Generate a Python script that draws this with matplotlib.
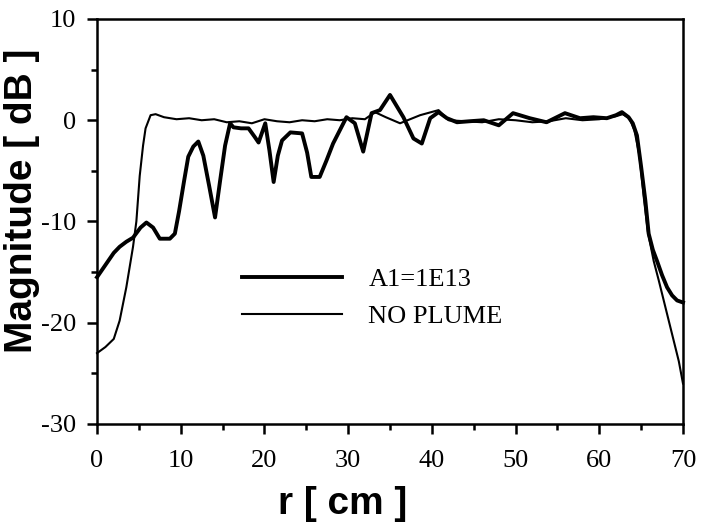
import matplotlib
matplotlib.use("Agg")
import matplotlib.pyplot as plt
from matplotlib.ticker import MultipleLocator

plt.rcParams["axes.unicode_minus"] = False

# === data ===
r_a1 = [0, 1, 2, 2.7, 3.5, 4.3, 5.2, 5.9, 6.7, 7.5, 8.7, 9.3, 9.8, 10.4, 10.9,
        11.5, 12.1, 12.7, 13.4, 14.1, 14.7, 15.3, 15.9, 16.3, 17.2, 18.1, 18.8,
        19.3, 20.1, 20.6, 21.1, 21.6, 22.1, 23.1, 24.5, 25.1, 25.6, 26.6, 27.4,
        28.2, 29.0, 29.8, 30.8, 31.8, 32.8, 33.8, 35.0, 35.8, 36.6, 37.8, 38.8,
        39.8, 40.8, 41.8, 43.0, 44.5, 46.2, 48.0, 49.7, 51.7, 53.7, 55.9, 57.7,
        59.3, 60.9, 62.0, 62.7, 63.5, 64.0, 64.5, 65.0, 65.5, 65.9, 66.4, 66.9,
        67.5, 68.1, 68.7, 69.3, 70]
mag_a1 = [-15.5, -14.3, -13.1, -12.5, -12.0, -11.6, -10.6, -10.1, -10.6, -11.7,
          -11.7, -11.2, -9.0, -6.0, -3.6, -2.6, -2.1, -3.5, -6.5, -9.6, -6.0,
          -2.5, -0.3, -0.7, -0.8, -0.8, -1.6, -2.2, -0.3, -3.0, -6.1, -3.5, -2.0,
          -1.2, -1.3, -3.2, -5.6, -5.6, -4.0, -2.3, -1.0, 0.3, -0.3, -3.1, 0.7,
          1.0, 2.5, 1.4, 0.3, -1.8, -2.3, 0.2, 0.8, 0.2, -0.2, -0.1, 0.0, -0.5,
          0.7, 0.2, -0.2, 0.7, 0.2, 0.3, 0.2, 0.5, 0.8, 0.3, -0.3, -1.5, -4.6,
          -7.9, -11.2, -12.8, -13.9, -15.3, -16.5, -17.3, -17.8, -18.0]

r_np = [0, 1, 2, 2.7, 3.5, 4.3, 4.7, 5.1, 5.5, 5.8, 6.4, 7.0, 8.0, 9.5, 11.0,
        12.5, 14.0, 15.5, 17.0, 18.5, 20.0, 21.5, 23.0, 24.5, 26.0, 27.5, 29.0,
        30.5, 32.0, 33.2, 34.5, 36.2, 38.6, 40.8, 42.0, 44.0, 46.0, 48.0, 50.0,
        52.0, 54.0, 56.0, 58.0, 60.0, 62.0, 62.8, 63.6, 64.2, 64.8, 65.3, 65.8,
        66.5, 67.1, 67.7, 68.3, 68.9, 69.5, 70]
mag_np = [-23.0, -22.4, -21.6, -19.8, -16.5, -12.5, -10.0, -5.5, -2.5, -0.8, 0.5,
          0.6, 0.3, 0.1, 0.2, 0.0, 0.1, -0.2, -0.1, -0.3, 0.1, -0.1, -0.2, 0.0,
          -0.1, 0.1, 0.0, 0.2, 0.1, 0.8, 0.3, -0.3, 0.5, 1.0, 0.0, -0.1, -0.2,
          0.1, 0.0, -0.2, -0.1, 0.2, 0.0, 0.1, 0.4, 0.6, 0.2, -1.0, -3.5, -7.5,
          -11.0, -13.9, -15.8, -17.8, -19.8, -21.8, -23.8, -26.0]

labels = ["A1=1E13", "NO PLUME"]

serif = ["Liberation Serif", "DejaVu Serif"]
sans = ["Liberation Sans", "DejaVu Sans"]

fig = plt.figure(figsize=(7.01, 5.29), dpi=100)
ax = fig.add_axes([0.1384, 0.1985, 0.8359, 0.7656])

ax.plot(r_a1, mag_a1, color="black", lw=2.8, label=labels[0],
        solid_joinstyle="round", clip_on=False)
ax.plot(r_np, mag_np, color="black", lw=1.5, label=labels[1],
        solid_joinstyle="round", clip_on=False)

ax.set_xlim(0, 70)
ax.set_ylim(-30, 10)
ax.xaxis.set_major_locator(MultipleLocator(10))
ax.xaxis.set_minor_locator(MultipleLocator(5))
ax.yaxis.set_major_locator(MultipleLocator(10))
ax.yaxis.set_minor_locator(MultipleLocator(5))
ax.tick_params(which="major", direction="out", length=7, width=1.8, pad=8)
ax.tick_params(which="minor", direction="out", length=4, width=1.8)
ax.tick_params(axis="x", which="major", pad=12)

for s in ax.spines.values():
    s.set_linewidth(1.8)

for lab in ax.get_xticklabels() + ax.get_yticklabels():
    lab.set_family(serif)
    lab.set_fontsize(19)

ax.set_xlabel("r [ cm ]", family=sans, fontweight="bold", fontsize=28, va="center")
ax.xaxis.set_label_coords(0.42, -0.198)
ax.set_ylabel("Magnitude [ dB ]", family=sans, fontweight="bold", fontsize=28,
              va="center")
ax.yaxis.set_label_coords(-0.128, 0.55)

ax.legend(loc="upper left", bbox_to_anchor=(0.247, 0.386), frameon=False,
          prop={"family": serif, "size": 19}, handlelength=3.8,
          handletextpad=1.0, labelspacing=0.5, borderpad=0, borderaxespad=0)

fig.savefig("out.png", dpi=100)
